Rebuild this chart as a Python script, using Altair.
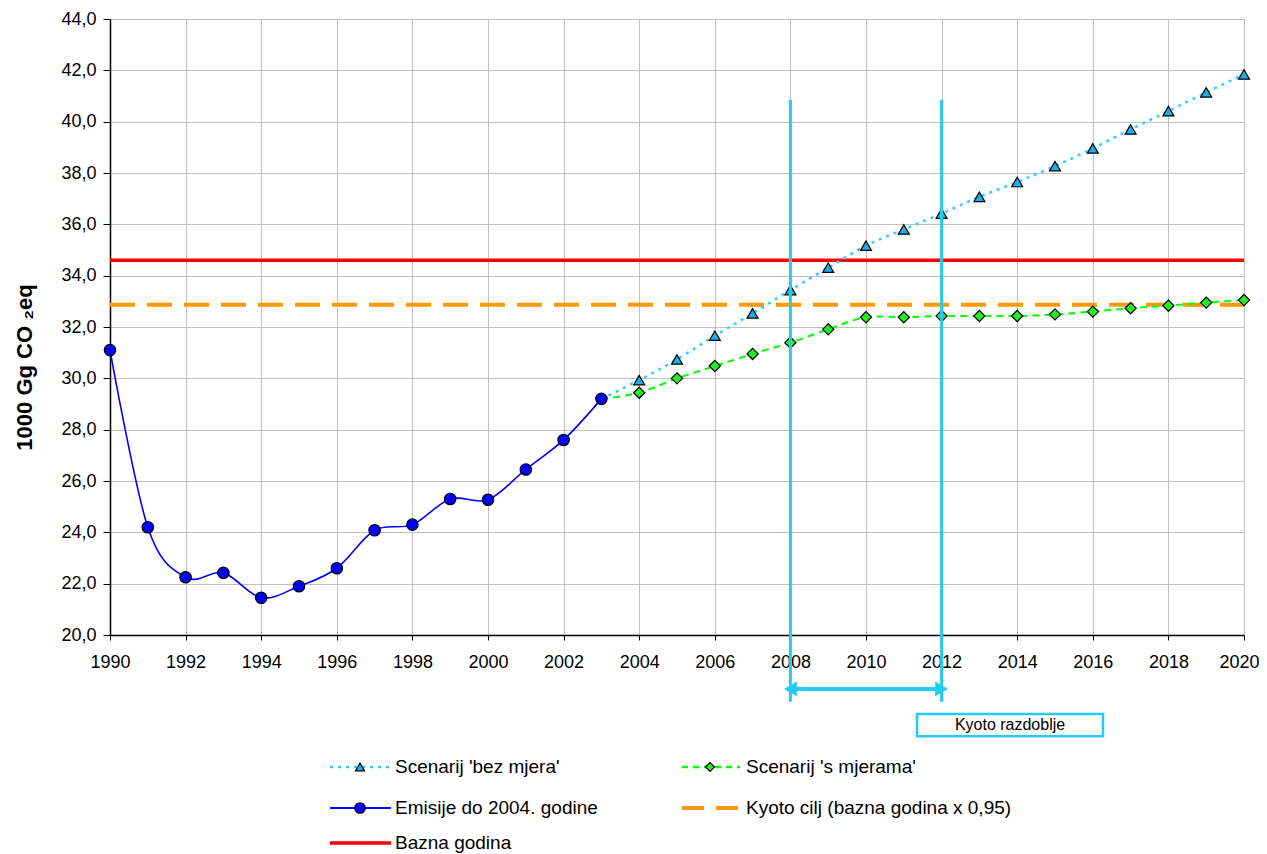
import altair as alt
import pandas as pd

# ---------------- data ----------------
years_hist = [1990, 1991, 1992, 1993, 1994, 1995, 1996, 1997, 1998, 1999, 2000, 2001, 2002, 2003]
emisije = [31.1, 24.2, 22.25, 22.42, 21.45, 21.9, 22.6, 24.08, 24.3, 25.3, 25.27, 26.45, 27.6, 29.2]

years_scen = [2003, 2004, 2005, 2006, 2007, 2008, 2009, 2010, 2011, 2012,
              2013, 2014, 2015, 2016, 2017, 2018, 2019, 2020]
bez_mjera = [29.2, 29.93, 30.74, 31.66, 32.53, 33.44, 34.31, 35.17, 35.8, 36.42,
             37.07, 37.65, 38.27, 38.96, 39.7, 40.41, 41.14, 41.84]
s_mjerama = [29.2, 29.44, 30.0, 30.48, 30.95, 31.39, 31.91, 32.38, 32.38, 32.43,
             32.43, 32.43, 32.49, 32.6, 32.73, 32.83, 32.95, 33.05]

bazna_godina = 34.6
kyoto_cilj = 32.87

kyoto_years = [2008, 2012]
kyoto_top = 40.85
kyoto_bottom = 17.4
kyoto_arrow_y = 17.9
kyoto_box = dict(x=2011.35, x2=2016.27, y=16.92, y2=16.06)
kyoto_label = "Kyoto razdoblje"

x_ticks = [1990, 1992, 1994, 1996, 1998, 2000, 2002, 2004, 2006, 2008, 2010,
           2012, 2014, 2016, 2018, 2020]
y_ticks = [20, 22, 24, 26, 28, 30, 32, 34, 36, 38, 40, 42, 44]
y_title = "1000 Gg CO \u2082eq"

legend_labels = ["Scenarij 'bez mjera'", "Scenarij 's mjerama'",
                 "Emisije do 2004. godine", "Kyoto cilj (bazna godina x 0,95)",
                 "Bazna godina"]

# ---------------- styles ----------------
FONT = "Liberation Sans"
CYAN_LINE = "#33CCFF"
CYAN_FILL = "#1AAFE6"
GREEN_LINE = "#00FF00"
GREEN_FILL = "#22EE22"
BLUE = "#0000FF"
RED = "#FF0000"
ORANGE = "#FF9900"
KYOTO = "#22CCF5"

W, H = 1134, 616

xs = alt.Scale(domain=[1990, 2020], nice=False, zero=False)
ys = alt.Scale(domain=[20, 44], nice=False, zero=False)

hist_df = pd.DataFrame({"year": years_hist, "v": emisije})
scen_df = pd.DataFrame({"year": years_scen, "bez": bez_mjera, "s": s_mjerama})

# axis layer
axis_layer = alt.Chart(pd.DataFrame({"year": [1990, 2020], "v": [20, 44]})).mark_point(opacity=0).encode(
    x=alt.X("year:Q", scale=xs, title=None, axis=alt.Axis(
        values=x_ticks, format="d", title=None, grid=True, gridColor="#C0C0C0", gridWidth=1,
        domainColor="black", domainWidth=1.5, tickColor="black", tickSize=5, tickWidth=1,
        labelFont=FONT, labelFontSize=18, labelColor="black", labelPadding=13,
        labelOffset={"condition": {"test": "datum.value == 2020", "value": -5}, "value": 0},
        labelFlush=False, labelOverlap=False)),
    y=alt.Y("v:Q", scale=ys, title=y_title, axis=alt.Axis(
        values=y_ticks, labelExpr="replace(format(datum.value, '.1f'), '.', ',')",
        title=y_title, titleFont=FONT, titleFontSize=22, titleFontWeight="bold", titleColor="black",
        titleAngle=-90, titleAlign="center", titleBaseline="middle", titleX=-86, titleY=348,
        grid=True, gridColor="#C0C0C0", gridWidth=1,
        domainColor="black", domainWidth=1.5, tickColor="black", tickSize=7, tickWidth=1,
        labelFont=FONT, labelFontSize=18, labelColor="black", labelPadding=7,
        labelFlush=False, labelOverlap=False)),
)

red_rule = alt.Chart(pd.DataFrame({"x": [1990], "x2": [2020], "y": [bazna_godina]})).mark_rule(
    color=RED, strokeWidth=3.5).encode(
    x=alt.X("x:Q", scale=xs), x2="x2:Q", y=alt.Y("y:Q", scale=ys))

orange_rule = alt.Chart(pd.DataFrame({"x": [1990], "x2": [2020], "y": [kyoto_cilj]})).mark_rule(
    color=ORANGE, strokeWidth=4, strokeDash=[25, 12]).encode(
    x=alt.X("x:Q", scale=xs), x2="x2:Q", y=alt.Y("y:Q", scale=ys))

bez_line = alt.Chart(scen_df).mark_line(
    color=CYAN_LINE, strokeWidth=2.5, strokeDash=[3, 5], interpolate="cardinal").encode(
    x=alt.X("year:Q", scale=xs), y=alt.Y("bez:Q", scale=ys))
bez_pts = alt.Chart(scen_df).transform_filter("datum.year >= 2004").mark_point(
    shape="triangle-up", filled=True, fill=CYAN_FILL, stroke="black", strokeWidth=1.2,
    size=120, opacity=1).encode(
    x=alt.X("year:Q", scale=xs), y=alt.Y("bez:Q", scale=ys))

s_line = alt.Chart(scen_df).mark_line(
    color=GREEN_LINE, strokeWidth=2, strokeDash=[7, 5], interpolate="cardinal").encode(
    x=alt.X("year:Q", scale=xs), y=alt.Y("s:Q", scale=ys))
s_pts = alt.Chart(scen_df).transform_filter("datum.year >= 2004").mark_point(
    shape="diamond", filled=True, fill=GREEN_FILL, stroke="black", strokeWidth=1.2,
    size=125, opacity=1).encode(
    x=alt.X("year:Q", scale=xs), y=alt.Y("s:Q", scale=ys))

hist_line = alt.Chart(hist_df).mark_line(
    color=BLUE, strokeWidth=1.6, interpolate="cardinal").encode(
    x=alt.X("year:Q", scale=xs), y=alt.Y("v:Q", scale=ys))
hist_pts = alt.Chart(hist_df).mark_point(
    shape="circle", filled=True, fill=BLUE, stroke="black", strokeWidth=1.2,
    size=130, opacity=1).encode(
    x=alt.X("year:Q", scale=xs), y=alt.Y("v:Q", scale=ys))

# Kyoto period annotation
kv_df = pd.DataFrame({"year": kyoto_years, "top": [kyoto_top] * 2, "bottom": [kyoto_bottom] * 2})
kyoto_vlines = alt.Chart(kv_df).mark_rule(color=KYOTO, strokeWidth=3).encode(
    x=alt.X("year:Q", scale=xs),
    y=alt.Y("top:Q", scale=ys), y2="bottom:Q")

ka_df = pd.DataFrame({"x": [kyoto_years[0]], "x2": [kyoto_years[1]], "y": [kyoto_arrow_y]})
kyoto_arrow = alt.Chart(ka_df).mark_rule(color=KYOTO, strokeWidth=4).encode(
    x=alt.X("x:Q", scale=xs), x2="x2:Q", y=alt.Y("y:Q", scale=ys))
head_df = pd.DataFrame({"year": kyoto_years, "y": [kyoto_arrow_y] * 2,
                        "shape": ["triangle-left", "triangle-right"],
                        "off": [7, -7]})
kyoto_heads = alt.Chart(head_df).mark_point(filled=True, color=KYOTO, size=220, opacity=1).encode(
    x=alt.X("year:Q", scale=xs), y=alt.Y("y:Q", scale=ys),
    shape=alt.Shape("shape:N", scale=None, legend=None),
    xOffset=alt.XOffset("off:Q", scale=None))

kb_df = pd.DataFrame([kyoto_box])
kyoto_rect = alt.Chart(kb_df).mark_rect(fill="white", stroke=KYOTO, strokeWidth=2.5).encode(
    x=alt.X("x:Q", scale=xs), x2="x2:Q",
    y=alt.Y("y:Q", scale=ys), y2="y2:Q")
kt_df = pd.DataFrame({"x": [(kyoto_box["x"] + kyoto_box["x2"]) / 2],
                      "y": [(kyoto_box["y"] + kyoto_box["y2"]) / 2], "t": [kyoto_label]})
kyoto_text = alt.Chart(kt_df).mark_text(font=FONT, fontSize=16, color="black",
                                        align="center", baseline="middle").encode(
    x=alt.X("x:Q", scale=xs), y=alt.Y("y:Q", scale=ys), text="t:N")

# ---------------- manual legend ----------------
col_line = [(220, 281), (572, 630)]
col_mark = [250, 600]
col_text = [285, 636]
row_y = [748, 789, 824]

legend_specs = [
    dict(col=0, row=0, color=CYAN_LINE, dash=[3, 5], width=2.5, shape="triangle-up", fill=CYAN_FILL, size=80),
    dict(col=1, row=0, color=GREEN_LINE, dash=[6, 5], width=2.5, shape="diamond", fill=GREEN_FILL, size=80),
    dict(col=0, row=1, color=BLUE, dash=None, width=2, shape="circle", fill=BLUE, size=110),
    dict(col=1, row=1, color=ORANGE, dash=[22, 12], width=4, shape=None, fill=None, size=None),
    dict(col=0, row=2, color=RED, dash=None, width=3.5, shape=None, fill=None, size=None),
]

legend_layers = []
one = pd.DataFrame({"k": [0]})
for lab, spec in zip(legend_labels, legend_specs):
    c, r = spec["col"], spec["row"]
    rule_kwargs = dict(color=spec["color"], strokeWidth=spec["width"])
    if spec["dash"]:
        rule_kwargs["strokeDash"] = spec["dash"]
    legend_layers.append(alt.Chart(one).mark_rule(**rule_kwargs).encode(
        x=alt.value(col_line[c][0]), x2=alt.value(col_line[c][1]), y=alt.value(row_y[r])))
    if spec["shape"]:
        legend_layers.append(alt.Chart(one).mark_point(
            shape=spec["shape"], filled=True, fill=spec["fill"], stroke="black",
            strokeWidth=1.2, size=spec["size"], opacity=1).encode(
            x=alt.value(col_mark[c]), y=alt.value(row_y[r])))
    legend_layers.append(alt.Chart(pd.DataFrame({"t": [lab]})).mark_text(
        font=FONT, fontSize=19, color="black", align="left", baseline="middle").encode(
        x=alt.value(col_text[c]), y=alt.value(row_y[r]), text="t:N"))

chart = alt.layer(
    axis_layer, red_rule, orange_rule,
    bez_line, s_line, hist_line,
    bez_pts, s_pts, hist_pts,
    kyoto_vlines, kyoto_arrow, kyoto_heads, kyoto_rect, kyoto_text,
    *legend_layers,
).properties(
    width=W, height=H,
    autosize=alt.AutoSizeParams(type="none"),
    padding={"left": 102, "top": 11, "right": 15, "bottom": 219},
    background="white",
).configure_view(stroke="black", strokeWidth=1)

chart.save("out.html", embed_options={"renderer": "svg", "actions": False})
